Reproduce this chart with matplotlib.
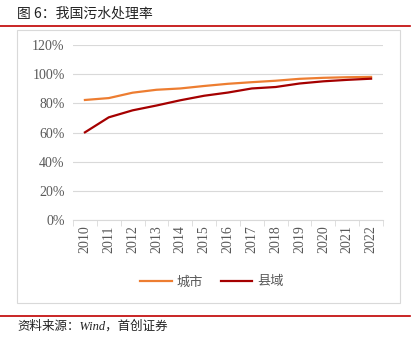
import matplotlib
matplotlib.use("Agg")
import matplotlib.pyplot as plt
import numpy as np
from matplotlib.patches import Rectangle
from matplotlib.lines import Line2D

years = ["2010", "2011", "2012", "2013", "2014", "2015", "2016", "2017", "2018", "2019", "2020", "2021", "2022"]
city = [82.3, 83.6, 87.3, 89.3, 90.2, 91.9, 93.4, 94.5, 95.5, 96.8, 97.5, 97.9, 98.1]
county = [60.1, 70.4, 75.2, 78.5, 82.1, 85.2, 87.4, 90.2, 91.2, 93.6, 95.1, 96.1, 96.9]
yticks = [0, 20, 40, 60, 80, 100, 120]
series_names = ["城市", "县域"]

W, H = 419, 341
fig = plt.figure(figsize=(W / 100, H / 100), dpi=100)
cjk = ["Noto Sans CJK SC", "DejaVu Sans"]
serif = ["Liberation Serif", "Noto Sans CJK SC"]

# title and frame decorations
fig.text(17 / W, 1 - 14 / H, "图 6：我国污水处理率", family=cjk, fontsize=10, color="#222222", va="center", ha="left")
fig.add_artist(Line2D([0, 410 / W], [1 - 26 / H, 1 - 26 / H], color="#C00000", lw=1.2, transform=fig.transFigure))
fig.add_artist(Line2D([0, 410 / W], [1 - 316 / H, 1 - 316 / H], color="#C00000", lw=1.2, transform=fig.transFigure))
fig.add_artist(Rectangle((17 / W, 1 - 303 / H), (400 - 17) / W, (303 - 30) / H, transform=fig.transFigure,
                         fill=False, edgecolor="#D9D9D9", lw=0.8))
fig.text(17 / W, 1 - 326 / H, "资料来源：Wind，首创证券", family=serif, fontsize=9, color="#222222",
         va="center", ha="left", style="italic")

ax = fig.add_axes([73 / W, 1 - 220 / H, (383 - 73) / W, (220 - 45) / H])
x = np.arange(len(years))
ax.plot(x, city, color="#ED7D31", lw=1.6, label=series_names[0])
ax.plot(x, county, color="#A50000", lw=1.6, label=series_names[1])

ax.set_xlim(-0.5, len(years) - 0.5)
ax.set_ylim(0, 120)
ax.set_yticks(yticks)
ax.set_yticklabels([f"{v}%" for v in yticks], family=serif, fontsize=10, color="#595959")
ax.grid(axis="y", color="#D9D9D9", lw=0.8)
ax.set_axisbelow(True)
for s in ["left", "right", "top"]:
    ax.spines[s].set_visible(False)
ax.spines["bottom"].set_color("#D9D9D9")
ax.tick_params(axis="y", length=0, pad=6)
ax.set_xticks(x)
ax.set_xticklabels(years, rotation=90, family=serif, fontsize=10, color="#595959")
ax.tick_params(axis="x", which="major", length=0, pad=4)
ax.set_xticks(np.arange(-0.5, len(years), 1), minor=True)
ax.tick_params(axis="x", which="minor", length=4, color="#D9D9D9")

leg = ax.legend(loc="center", bbox_to_anchor=(212 / W, 1 - 282 / H), bbox_transform=fig.transFigure,
                ncol=2, frameon=False, prop={"family": cjk, "size": 9.5}, handlelength=2.4,
                columnspacing=1.3, handletextpad=0.4)
for t in leg.get_texts():
    t.set_color("#595959")

fig.savefig("out.png", dpi=100)
